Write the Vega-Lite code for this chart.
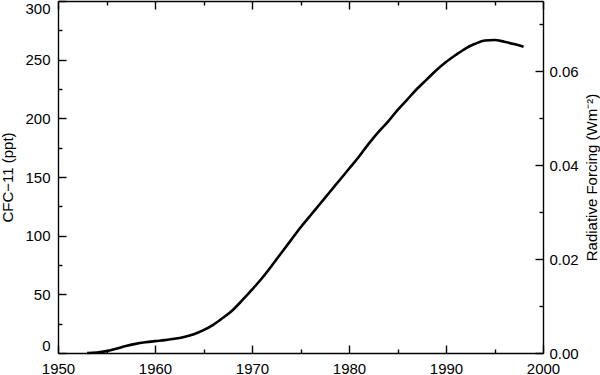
{
  "$schema": "https://vega.github.io/schema/vega-lite/v6.json",
  "width": 485,
  "height": 352,
  "autosize": {"type": "none"},
  "padding": {"left": 58, "top": 1, "right": 57, "bottom": 22},
  "background": "white",
  "config": {
    "view": {"stroke": null},
    "axis": {
      "labelFont": "Liberation Sans",
      "titleFont": "Liberation Sans",
      "labelFontSize": 15,
      "titleFontSize": 15,
      "titleFontWeight": "normal",
      "labelColor": "black",
      "titleColor": "black",
      "domainColor": "black",
      "tickColor": "black",
      "domainWidth": 1.4,
      "tickWidth": 1.4,
      "grid": false
    }
  },
  "data": {
    "values": [
      {"year": 1953, "cfc": 0},
      {"year": 1954, "cfc": 0.4},
      {"year": 1955, "cfc": 1.6},
      {"year": 1956, "cfc": 3.6},
      {"year": 1957, "cfc": 6},
      {"year": 1958, "cfc": 7.8},
      {"year": 1959, "cfc": 9.1},
      {"year": 1960, "cfc": 10.1},
      {"year": 1961, "cfc": 11},
      {"year": 1962, "cfc": 12.1},
      {"year": 1963, "cfc": 13.7},
      {"year": 1964, "cfc": 16},
      {"year": 1965, "cfc": 19.5},
      {"year": 1966, "cfc": 24},
      {"year": 1967, "cfc": 30},
      {"year": 1968, "cfc": 36.5},
      {"year": 1969, "cfc": 45},
      {"year": 1970, "cfc": 54},
      {"year": 1971, "cfc": 63.5},
      {"year": 1972, "cfc": 74},
      {"year": 1973, "cfc": 85},
      {"year": 1974, "cfc": 96},
      {"year": 1975, "cfc": 107},
      {"year": 1976, "cfc": 117},
      {"year": 1977, "cfc": 127},
      {"year": 1978, "cfc": 137},
      {"year": 1979, "cfc": 147},
      {"year": 1980, "cfc": 157},
      {"year": 1981, "cfc": 167},
      {"year": 1982, "cfc": 178},
      {"year": 1983, "cfc": 188},
      {"year": 1984, "cfc": 197},
      {"year": 1985, "cfc": 207},
      {"year": 1986, "cfc": 216},
      {"year": 1987, "cfc": 225},
      {"year": 1988, "cfc": 233},
      {"year": 1989, "cfc": 241},
      {"year": 1990, "cfc": 248},
      {"year": 1991, "cfc": 254},
      {"year": 1992, "cfc": 259.5},
      {"year": 1993, "cfc": 263.5},
      {"year": 1994, "cfc": 266.3},
      {"year": 1995, "cfc": 266.8},
      {"year": 1996, "cfc": 265.3},
      {"year": 1997, "cfc": 263.3},
      {"year": 1998, "cfc": 261}
    ]
  },
  "layer": [
    {
      "mark": {"type": "line", "color": "black", "strokeWidth": 2.6, "interpolate": "monotone"},
      "encoding": {
        "x": {
          "field": "year", "type": "quantitative",
          "scale": {"domain": [1950, 2000], "nice": false, "zero": false},
          "axis": {"orient": "bottom", "values": [1950, 1960, 1970, 1980, 1990, 2000], "format": "d", "tickSize": -8, "labelPadding": 16, "labelFlush": false, "title": null}
        },
        "y": {
          "field": "cfc", "type": "quantitative",
          "scale": {"domain": [0, 300], "nice": false},
          "axis": {"orient": "left", "values": [0, 50, 100, 150, 200, 250, 300], "tickSize": -8, "labelPadding": 16, "labelFlush": true, "title": "CFC\u221211  (ppt)", "titlePadding": 9}
        }
      }
    },
    {
      "mark": {"type": "point", "opacity": 0},
      "encoding": {
        "x": {
          "field": "year", "type": "quantitative",
          "scale": {"domain": [1950, 2000], "nice": false, "zero": false},
          "axis": {"orient": "bottom", "values": [1955, 1965, 1975, 1985, 1995], "labels": false, "domain": false, "tickSize": -4, "title": null}
        },
        "y": {
          "field": "cfc", "type": "quantitative",
          "scale": {"domain": [0, 300], "nice": false},
          "axis": {"orient": "left", "values": [25, 75, 125, 175, 225, 275], "labels": false, "domain": false, "tickSize": -4, "title": null}
        }
      }
    },
    {
      "mark": {"type": "point", "opacity": 0, "clip": true},
      "encoding": {
        "x": {
          "field": "year", "type": "quantitative",
          "scale": {"domain": [1950, 2000], "nice": false, "zero": false},
          "axis": {"orient": "top", "values": [1950, 1960, 1970, 1980, 1990, 2000], "labels": false, "tickSize": -8, "title": null}
        },
        "y": {
          "field": "cfc", "type": "quantitative",
          "scale": {"domain": [0, 0.075], "nice": false},
          "axis": {"orient": "right", "values": [0, 0.02, 0.04, 0.06], "format": ".2f", "tickSize": -8, "labelPadding": 14, "labelFlush": false, "title": "Radiative Forcing (Wm\u207b\u00b2)", "titleAngle": 270, "titlePadding": 21}
        }
      }
    },
    {
      "mark": {"type": "point", "opacity": 0, "clip": true},
      "encoding": {
        "x": {
          "field": "year", "type": "quantitative",
          "scale": {"domain": [1950, 2000], "nice": false, "zero": false},
          "axis": {"orient": "top", "values": [1955, 1965, 1975, 1985, 1995], "labels": false, "domain": false, "tickSize": -4, "title": null}
        },
        "y": {
          "field": "cfc", "type": "quantitative",
          "scale": {"domain": [0, 0.075], "nice": false},
          "axis": {"orient": "right", "values": [0.01, 0.03, 0.05, 0.07], "labels": false, "domain": false, "tickSize": -4, "title": null}
        }
      }
    }
  ],
  "resolve": {
    "scale": {"x": "independent", "y": "independent"},
    "axis": {"x": "independent", "y": "independent"}
  }
}
